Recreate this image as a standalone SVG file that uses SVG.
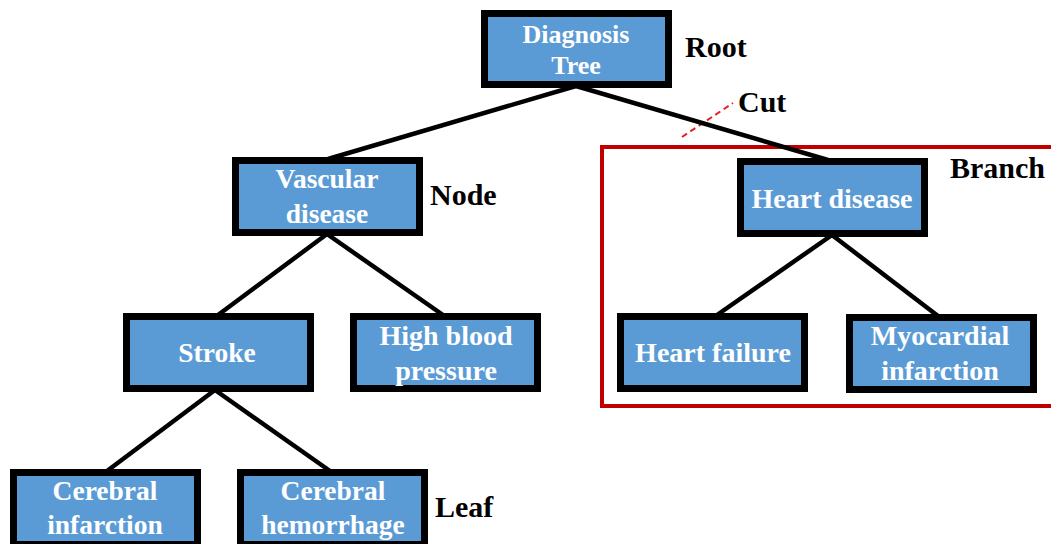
<svg xmlns="http://www.w3.org/2000/svg" width="1051" height="544" viewBox="0 0 1051 544">
<style>
.box{fill:#5B9BD5;stroke:#000;stroke-width:7}
.t{font-family:"Liberation Serif","Times New Roman",serif;font-weight:bold;font-size:27.5px;fill:#fff;text-anchor:middle}
.lbl{font-family:"Liberation Serif","Times New Roman",serif;font-weight:bold;font-size:30px;fill:#000}
.edge{stroke:#000;stroke-width:4.5;fill:none}
</style>
<rect width="1051" height="544" fill="#fff"/>
<rect id="branch-frame" x="602" y="147" width="460" height="259" fill="none" stroke="#C00000" stroke-width="4"/>
<line id="cut-line" x1="682" y1="137" x2="733" y2="103" stroke="#E52020" stroke-width="2" stroke-dasharray="6,4"/>
<g id="connectors">
<line class="edge" x1="576" y1="86" x2="328" y2="159"/>
<line class="edge" x1="576" y1="86" x2="828" y2="160"/>
<line class="edge" x1="327" y1="234" x2="218" y2="315"/>
<line class="edge" x1="327" y1="234" x2="443" y2="315"/>
<line class="edge" x1="215" y1="390" x2="107" y2="471"/>
<line class="edge" x1="215" y1="390" x2="330" y2="471"/>
<line class="edge" x1="832" y1="235" x2="717" y2="315"/>
<line class="edge" x1="832" y1="235" x2="938" y2="316"/>
</g>
<g id="root">
<rect class="box" x="484.5" y="13.5" width="184" height="71"/>
<text class="t" x="576" y="43" style="font-size:26px">Diagnosis</text>
<text class="t" x="576" y="74" style="font-size:26px">Tree</text>
</g>
<g id="vascular">
<rect class="box" x="235.5" y="160.5" width="184" height="72"/>
<text class="t" x="327" y="188">Vascular</text>
<text class="t" x="327" y="223">disease</text>
</g>
<g id="heart">
<rect class="box" x="740.5" y="161.5" width="184" height="72"/>
<text class="t" x="832" y="208" style="font-size:28px">Heart disease</text>
</g>
<g id="stroke">
<rect class="box" x="126.5" y="316.5" width="184" height="72"/>
<text class="t" x="217" y="362">Stroke</text>
</g>
<g id="hbp">
<rect class="box" x="353.5" y="316.5" width="184" height="72"/>
<text class="t" x="446" y="345" style="font-size:28px">High blood</text>
<text class="t" x="446" y="380" style="font-size:28px">pressure</text>
</g>
<g id="hf">
<rect class="box" x="620.5" y="316.5" width="184" height="72"/>
<text class="t" x="713" y="362" style="font-size:28px">Heart failure</text>
</g>
<g id="mi">
<rect class="box" x="849.5" y="317.5" width="184" height="72"/>
<text class="t" x="940" y="345" style="font-size:28px">Myocardial</text>
<text class="t" x="940" y="380" style="font-size:28px">infarction</text>
</g>
<g id="ci">
<rect class="box" x="13.5" y="472.5" width="184" height="72"/>
<text class="t" x="105" y="500">Cerebral</text>
<text class="t" x="105" y="534">infarction</text>
</g>
<g id="ch">
<rect class="box" x="240.5" y="472.5" width="184" height="72"/>
<text class="t" x="333" y="500">Cerebral</text>
<text class="t" x="333" y="534">hemorrhage</text>
</g>
<g id="labels">
<text class="lbl" x="685" y="57">Root</text>
<text class="lbl" x="738" y="112">Cut</text>
<text class="lbl" x="430" y="205">Node</text>
<text class="lbl" x="950" y="178">Branch</text>
<text class="lbl" x="435" y="517">Leaf</text>
</g>
</svg>
